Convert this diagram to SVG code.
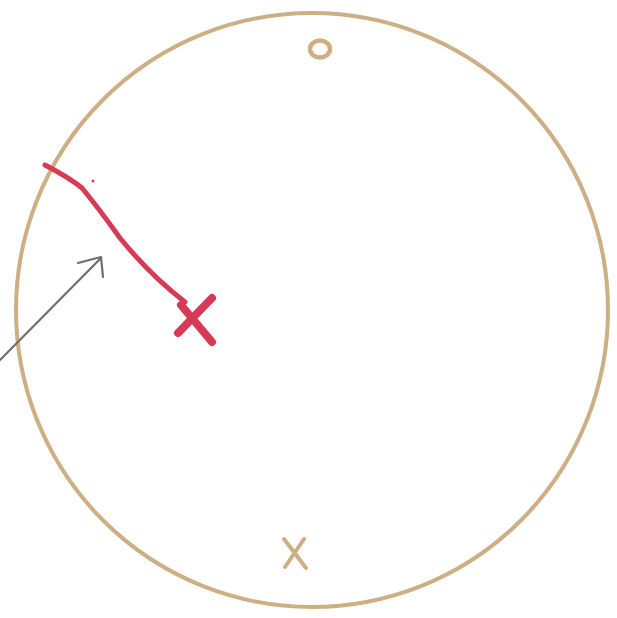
<svg xmlns="http://www.w3.org/2000/svg" width="617" height="618" viewBox="0 0 617 618">
<style>
.tan{fill:none;stroke:#c9a676;stroke-width:4;stroke-linecap:round;stroke-linejoin:round;opacity:0.9}
.red{fill:none;stroke:#d63a55;stroke-width:5;stroke-linecap:round;stroke-linejoin:round}
.gray{fill:none;stroke:#6e6e6e;stroke-width:2.2;stroke-linecap:round;stroke-linejoin:round}
</style>
<rect width="617" height="618" fill="#ffffff"/>
<g id="circle"><ellipse class="tan" cx="312" cy="310" rx="296" ry="297"/></g>
<g id="top-mark"><ellipse class="tan" cx="320" cy="49" rx="10" ry="8.5" style="stroke-width:4.5"/></g>
<g id="bottom-mark"><path class="tan" d="M284 539 L306 568 M304 539 L285 567" style="stroke-width:4"/></g>
<g id="red-mark">
<path class="red" d="M45 165 Q70 178 82 188 Q100 210 120 238 Q150 275 185 302"/>
<path class="red" d="M178 333 L212 298 M181 305 L212 342" style="stroke-width:8"/>
<circle cx="93" cy="181" r="1.5" fill="#d63a55"/>
</g>
<g id="connectors">
<path class="gray" d="M0 360 L101 258 M78 263 L101 257 L103 277"/>
</g>
</svg>
